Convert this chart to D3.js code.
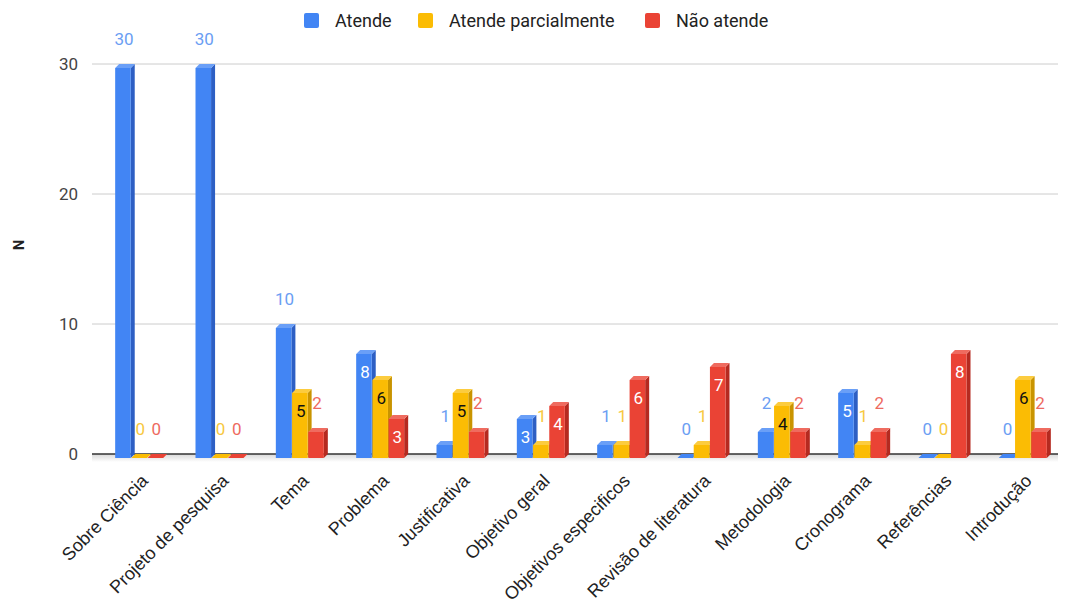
<!DOCTYPE html>
<html><head><meta charset="utf-8">
<script src="https://cdn.jsdelivr.net/npm/d3@7"></script>
<style>body{margin:0;background:#fff}svg{display:block}</style>
</head><body><svg id="c" width="1071" height="601"></svg>
<script>
const categories = ["Sobre Ciência","Projeto de pesquisa","Tema","Problema","Justificativa","Objetivo geral","Objetivos especificos","Revisão de literatura","Metodologia","Cronograma","Referências","Introdução"];
const seriesNames = ["Atende","Atende parcialmente","Não atende"];
const atende = [30,30,10,8,1,3,1,0,2,5,0,0];
const parcial = [0,0,5,6,5,1,1,1,4,1,0,6];
const naoAtende = [0,0,2,3,2,4,6,7,2,2,8,2];
const yTicks = [0,10,20,30];

const colors = ["#4285F4","#FBBC04","#EA4335"];
const sideColors = ["#2d5fc4","#c99400","#b52a20"];
const topColors = ["#6a9ff7","#fccc3f","#ef6b5f"];
const outLabelColors = ["#6b9ef3","#f7c840","#ee6a5f"];
const inLabelColors = ["#ffffff","#111111","#ffffff"];
const series = [atende, parcial, naoAtende];

const svg = d3.select("#c");
const x = d3.scaleBand().domain(categories).range([101,1065]);
const y = d3.scaleLinear().domain([0,30]).range([454,64]);
const inner = d3.scaleBand().domain([0,1,2]).range([-26, 22]).paddingInner(0.04);
const d = 4;

// gridlines
svg.selectAll("line.grid").data(yTicks.filter(t=>t>0)).join("line")
  .attr("x1",92).attr("x2",1058).attr("y1",t=>y(t)).attr("y2",t=>y(t))
  .attr("stroke","#cccccc").attr("stroke-width",1);
// floor shading
const defs = svg.append("defs");
const lg = defs.append("linearGradient").attr("id","floor").attr("x1",0).attr("x2",0).attr("y1",0).attr("y2",1);
lg.append("stop").attr("offset","0%").attr("stop-color","#d8d8d8");
lg.append("stop").attr("offset","100%").attr("stop-color","#ffffff");
svg.append("rect").attr("x",92).attr("y",y(0)).attr("width",966).attr("height",8).attr("fill","url(#floor)");
svg.append("line").attr("x1",92).attr("x2",1058).attr("y1",y(0)).attr("y2",y(0)).attr("stroke","#333").attr("stroke-width",1.5);

// y tick labels
svg.selectAll("text.yt").data(yTicks).join("text")
  .attr("x",78).attr("y",t=>y(t)).attr("dy","0.35em").attr("text-anchor","end")
  .attr("font-family","Roboto, 'Liberation Sans', sans-serif").attr("font-size",17).attr("fill","#444")
  .text(t=>t);
// y title
svg.append("text").attr("transform","translate(19,245) rotate(-90)").attr("text-anchor","middle")
  .attr("dy","0.35em").attr("font-family","Roboto, sans-serif").attr("font-weight","bold").attr("font-size",15).attr("fill","#222").text("N");

// bars
const bars = svg.append("g");
categories.forEach((c,i)=>{
  series.forEach((s,k)=>{
    const v = s[i];
    const w = inner.bandwidth();
    const x0 = x(c) + x.bandwidth()/2 + inner(k);
    const yt = y(v) + d, yb = y(0) + d;
    const gb = bars.append("g");
    if (v > 0) {
      gb.append("path").attr("fill",sideColors[k])
        .attr("d",`M${x0+w},${yt}L${x0+w+d},${yt-d}L${x0+w+d},${yb-d}L${x0+w},${yb}Z`);
      gb.append("path").attr("fill",topColors[k])
        .attr("d",`M${x0},${yt}L${x0+d},${yt-d}L${x0+w+d},${yt-d}L${x0+w},${yt}Z`);
      gb.append("rect").attr("x",x0).attr("y",yt).attr("width",w).attr("height",yb-yt).attr("fill",colors[k]);
    } else {
      gb.append("path").attr("fill",colors[k])
        .attr("d",`M${x0},${yb}L${x0+d},${yb-d}L${x0+w+d},${yb-d}L${x0+w},${yb}Z`);
    }
    const inside = v >= 3 && v < 10;
    gb.append("text").attr("x",x0+w/2+1).attr("y", inside ? y(v)+22 : y(v)-25)
      .attr("dy","0.35em").attr("text-anchor","middle")
      .attr("font-family","Roboto, sans-serif").attr("font-size",17)
      .attr("fill", inside ? inLabelColors[k] : outLabelColors[k]).text(v);
  });
});

// x labels
svg.selectAll("text.xl").data(categories).join("text")
  .attr("transform",c=>`translate(${x(c)+x.bandwidth()/2+8},${482}) rotate(-45)`)
  .attr("text-anchor","end")
  .attr("font-family","'Liberation Sans', Arial, sans-serif").attr("font-size",18).attr("fill","#222")
  .text(c=>c);

// legend
const legX = [304,418,645];
const leg = svg.append("g");
seriesNames.forEach((n,k)=>{
  leg.append("rect").attr("x",legX[k]).attr("y",13).attr("width",15).attr("height",15).attr("rx",2).attr("fill",colors[k]);
  leg.append("text").attr("x",legX[k]+31).attr("y",21).attr("dy","0.35em")
    .attr("font-family","Roboto, sans-serif").attr("font-size",18).attr("fill","#222").text(n);
});
</script></body></html>
